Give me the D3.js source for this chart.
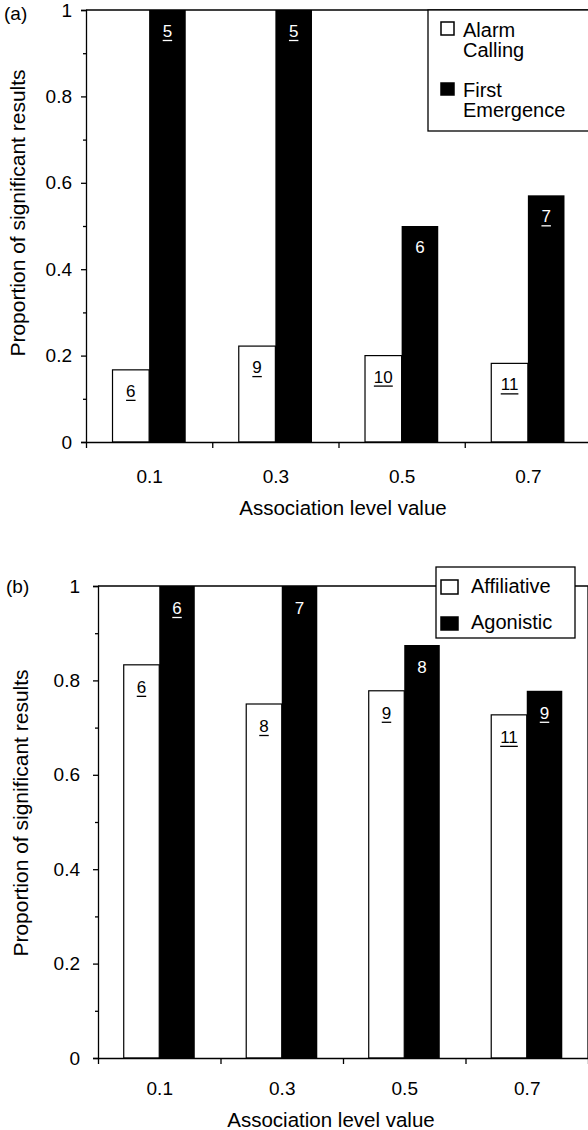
<!DOCTYPE html>
<html>
<head>
<meta charset="utf-8">
<script src="https://cdn.jsdelivr.net/npm/d3@7"></script>
<style>
  body { margin: 0; background: #fff; }
  svg { display: block; font-family: "Liberation Sans", Arial, Helvetica, sans-serif; }
  .axis path, .axis line { stroke: #000; stroke-width: 1.3; }
  .axis text { fill: #000; }
</style>
</head>
<body>
<script>
// association levels (x categories)
var levels = [0.1, 0.3, 0.5, 0.7];
var xTickLabels = ["0.1", "0.3", "0.5", "0.7"];
var yTicks = [0, 0.2, 0.4, 0.6, 0.8, 1];
var yTickLabels = ["0", "0.2", "0.4", "0.6", "0.8", "1"];
var yMinor = [0.1, 0.3, 0.5, 0.7, 0.9];
var xMinor = [0, 0.2, 0.4, 0.6, 0.8];

// panel (a)
var alarmCalling = [0.167, 0.222, 0.2, 0.182];
var firstEmergence = [1, 1, 0.5, 0.571];
var alarmN = ["6", "9", "10", "11"];
var emergenceN = ["5", "5", "6", "7"];
var alarmUnderline = [true, true, true, true];
var emergenceUnderline = [true, true, false, true];

// panel (b)
var affiliative = [0.833, 0.75, 0.778, 0.727];
var agonistic = [1, 1, 0.875, 0.778];
var affiliativeN = ["6", "8", "9", "11"];
var agonisticN = ["6", "7", "8", "9"];
var affiliativeUnderline = [true, true, true, true];
var agonisticUnderline = [true, false, false, true];

var svgWidth = 588;
var svgHeight = 1130;
var barW = 0.058;

var svg = d3.select("body")
            .append("svg")
            .attr("width", svgWidth)
            .attr("height", svgHeight);

function drawPanel(p) {
    var x = d3.scaleLinear().domain([0, 0.8]).range([p.left, p.right]);
    var y = d3.scaleLinear().domain([0, 1]).range([p.bottom, p.top]);
    var g = svg.append("g");

    // frame top / right
    g.append("path")
     .attr("d", `M${p.left},${p.top}H${x(0.8)}V${p.bottom}`)
     .attr("fill", "none")
     .attr("stroke", "#000")
     .attr("stroke-width", 1.3);

    var rows = levels.map((lv, i) => ({
        level: lv,
        w: p.white[i], b: p.black[i],
        wn: p.whiteN[i], bn: p.blackN[i],
        wu: p.whiteU[i], bu: p.blackU[i]
    }));

    // white bars
    g.selectAll(".wbar").data(rows).enter().append("rect")
     .attr("class", "wbar")
     .attr("x", d => x(d.level - barW))
     .attr("width", d => x(d.level) - x(d.level - barW))
     .attr("y", d => y(d.w))
     .attr("height", d => y(0) - y(d.w))
     .attr("fill", "#fff")
     .attr("stroke", "#000")
     .attr("stroke-width", 1.2);

    // black bars
    g.selectAll(".bbar").data(rows).enter().append("rect")
     .attr("class", "bbar")
     .attr("x", d => x(d.level))
     .attr("width", d => x(d.level + barW) - x(d.level))
     .attr("y", d => y(d.b))
     .attr("height", d => y(0) - y(d.b))
     .attr("fill", "#000");

    // sample size labels inside bars
    function addLabels(key, nKey, uKey, offset, color) {
        rows.forEach(d => {
            var cx = x(d.level + offset * barW);
            var by = y(d[key]) + p.labelDy;
            var t = g.append("text")
                     .attr("x", cx)
                     .attr("y", by)
                     .attr("text-anchor", "middle")
                     .attr("font-size", 17)
                     .attr("fill", color)
                     .text(d[nKey]);
            if (d[uKey]) {
                var len = t.node().getComputedTextLength();
                g.append("line")
                 .attr("x1", cx - len / 2).attr("x2", cx + len / 2)
                 .attr("y1", by + 3.5).attr("y2", by + 3.5)
                 .attr("stroke", color)
                 .attr("stroke-width", 1.3);
            }
        });
    }
    addLabels("w", "wn", "wu", -0.5, "#000");
    addLabels("b", "bn", "bu", 0.5, "#fff");

    // y axis
    var leftAxis = d3.axisLeft(y)
                     .tickValues(yTicks)
                     .tickFormat((d, i) => yTickLabels[i])
                     .tickSize(5)
                     .tickPadding(p.yPad);
    var yAxis = g.append("g")
                 .attr("class", "axis")
                 .attr("transform", `translate(${p.left},0)`)
                 .call(leftAxis);
    yAxis.selectAll("text").attr("font-size", 19);

    g.append("g")
     .attr("class", "axis")
     .attr("transform", `translate(${p.left},0)`)
     .call(d3.axisLeft(y).tickValues(yMinor).tickFormat("").tickSize(3))
     .select(".domain").remove();

    // x axis
    var xAxis = g.append("g")
                 .attr("class", "axis")
                 .attr("transform", `translate(0,${p.bottom})`)
                 .call(d3.axisBottom(x).tickValues(xMinor).tickFormat("").tickSizeInner(6).tickSizeOuter(0));

    var xLabels = g.append("g")
                   .attr("class", "axis")
                   .attr("transform", `translate(0,${p.bottom})`)
                   .call(d3.axisBottom(x).tickValues(levels).tickFormat((d, i) => xTickLabels[i]).tickSize(0).tickPadding(p.xPad));
    xLabels.select(".domain").remove();
    xLabels.selectAll("text").attr("font-size", 19);

    // axis titles
    g.append("text")
     .attr("x", p.titleX)
     .attr("y", p.titleY)
     .attr("text-anchor", "middle")
     .attr("font-size", 20.5)
     .text("Association level value");

    g.append("text")
     .attr("transform", `translate(${p.ylabX},${p.ylabY}) rotate(-90)`)
     .attr("text-anchor", "middle")
     .attr("font-size", 21)
     .text("Proportion of significant results");

    g.append("text")
     .attr("x", p.tagX)
     .attr("y", p.tagY)
     .attr("font-size", 19)
     .text(p.tag);

    // legend
    var lg = g.append("g");
    lg.append("rect")
      .attr("x", p.legend.x).attr("y", p.legend.y)
      .attr("width", p.legend.w).attr("height", p.legend.h)
      .attr("fill", "#fff")
      .attr("stroke", "#000")
      .attr("stroke-width", 1.3);
    p.legend.items.forEach(it => {
        lg.append("rect")
          .attr("x", it.sx).attr("y", it.sy)
          .attr("width", it.sw).attr("height", it.sh)
          .attr("fill", it.fill)
          .attr("stroke", "#000")
          .attr("stroke-width", 1.5);
        var t = lg.append("text")
                  .attr("x", it.tx)
                  .attr("y", it.ty)
                  .attr("font-size", 20);
        it.lines.forEach((ln, j) => {
            t.append("tspan")
             .attr("x", it.tx)
             .attr("dy", j == 0 ? 0 : 20)
             .text(ln);
        });
    });
}

drawPanel({
    left: 86, right: 591, top: 10, bottom: 442,
    white: alarmCalling, black: firstEmergence,
    whiteN: alarmN, blackN: emergenceN,
    whiteU: alarmUnderline, blackU: emergenceUnderline,
    labelDy: 27, yPad: 9, xPad: 28,
    titleX: 343, titleY: 515,
    ylabX: 25, ylabY: 213,
    tag: "(a)", tagX: 4, tagY: 20,
    legend: {
        x: 428, y: 10, w: 200, h: 121,
        items: [
            { sx: 441, sy: 22, sw: 13, sh: 13, fill: "#fff", tx: 463, ty: 37, lines: ["Alarm", "Calling"] },
            { sx: 441, sy: 83, sw: 13, sh: 12, fill: "#000", tx: 463, ty: 97, lines: ["First", "Emergence"] }
        ]
    }
});

drawPanel({
    left: 98, right: 588, top: 586, bottom: 1058,
    white: affiliative, black: agonistic,
    whiteN: affiliativeN, blackN: agonisticN,
    whiteU: affiliativeUnderline, blackU: agonisticUnderline,
    labelDy: 28, yPad: 13, xPad: 24,
    titleX: 331, titleY: 1127,
    ylabX: 28, ylabY: 813,
    tag: "(b)", tagX: 6, tagY: 593,
    legend: {
        x: 436, y: 567, w: 139, h: 71,
        items: [
            { sx: 441, sy: 580, sw: 17, sh: 14, fill: "#fff", tx: 471, ty: 593, lines: ["Affiliative"] },
            { sx: 441, sy: 617, sw: 17, sh: 13, fill: "#000", tx: 471, ty: 629, lines: ["Agonistic"] }
        ]
    }
});
</script>
</body>
</html>
